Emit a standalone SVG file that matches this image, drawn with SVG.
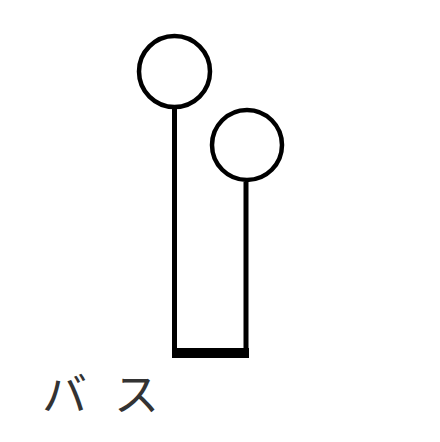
<svg xmlns="http://www.w3.org/2000/svg" width="440" height="442" viewBox="0 0 440 442">
<style>
.c{fill:none;stroke:#000;stroke-width:4.5}
.l{fill:none;stroke:#000;stroke-width:5}
.t{font-family:"Noto Sans CJK JP",sans-serif;font-size:45px;font-weight:400;fill:#333}
</style>
<rect width="440" height="442" fill="#fff"/>
<g id="connectors">
<path class="l" d="M174.5 109V353H246V182"/>
<rect x="172" y="348" width="77" height="10" fill="#000"/>
</g>
<g id="node1"><circle class="c" cx="174.5" cy="71.5" r="35.5"/></g>
<g id="node2"><circle class="c" cx="247" cy="145" r="35"/></g>
<g id="label"><text class="t" x="42 90 114" y="411">バ ス</text></g>
</svg>
